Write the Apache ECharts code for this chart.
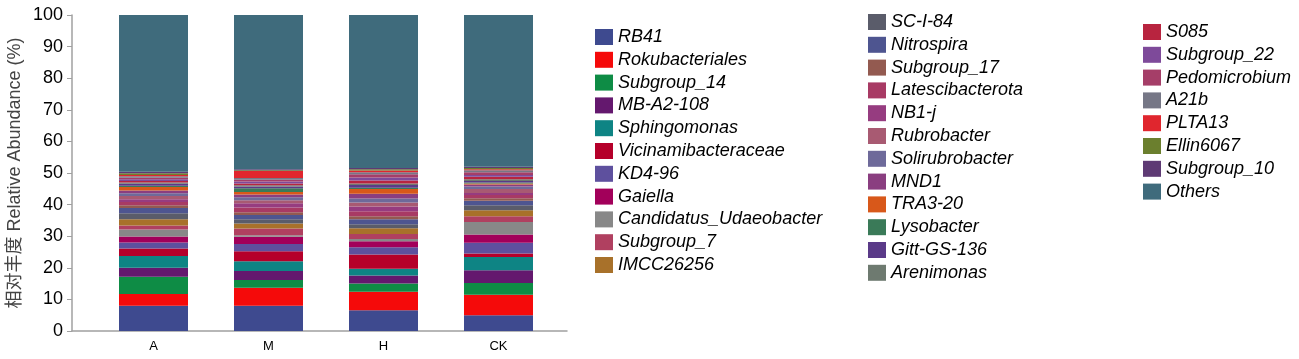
<!DOCTYPE html>
<html><head><meta charset="utf-8">
<script src="https://cdn.jsdelivr.net/npm/echarts@6/dist/echarts.min.js"></script>
<style>html,body{margin:0;padding:0;background:#fff}#c{width:1299px;height:359px}</style>
</head><body><div id="c"></div>
<script>
const categories = ['A', 'M', 'H', 'CK'];
const taxa = ['RB41','Rokubacteriales','Subgroup_14','MB-A2-108','Sphingomonas','Vicinamibacteraceae','KD4-96','Gaiella','Candidatus_Udaeobacter','Subgroup_7','IMCC26256',
  'SC-I-84','Nitrospira','Subgroup_17','Latescibacterota','NB1-j','Rubrobacter','Solirubrobacter','MND1','TRA3-20','Lysobacter','Gitt-GS-136','Arenimonas',
  'S085','Subgroup_22','Pedomicrobium','A21b','PLTA13','Ellin6067','Subgroup_10','Others'];
const colors = ['#3E4A8F','#F50A0A','#0E8C45','#64186E','#0E8484','#B5002A','#5E509E','#A2005A','#888888','#B04060','#A8712A',
  '#5A5C6A','#4E5590','#935A50','#A83A64','#963C80','#A85A72','#6E6A9A','#8A3E80','#D8581A','#3A7A58','#5A3A88','#6E7A70',
  '#B8243F','#7E4A9A','#A53E68','#767786','#E0262E','#6B7F2E','#5E3A74','#3F6B7C'];
// relative abundance (%) per sample, same order as taxa
const sampleA  = [8.0,3.7,5.5,2.8,3.7,2.4,1.9,1.9,2.2,1.3,2.0, 1.9,1.6,0.9,1.0,0.9,1.0,0.9,0.9,1.1,0.4,0.6,0.4, 0.5,0.5,0.5,0.5,0.4,0.5,0.5,49.6];
const sampleM  = [8.0,5.7,2.4,2.9,3.1,3.1,2.3,2.3,0.5,2.1,1.6, 1.4,1.3,0.9,1.5,1.3,1.0,0.9,0.9,0.8,1.2,0.5,0.4, 0.6,0.6,0.6,0.5,2.2,0.3,0.3,48.8];
const sampleH  = [6.6,5.8,2.6,2.6,2.1,4.5,2.3,1.9,0.7,1.6,1.8, 1.3,1.6,0.9,1.6,1.5,1.3,1.2,1.5,1.5,0.4,0.9,0.5, 0.9,1.0,1.0,0.6,0.6,0.4,0.4,48.4];
const sampleCK = [5.0,6.5,3.7,4.0,4.2,1.1,3.4,2.6,4.0,1.8,1.9, 1.6,1.4,0.8,1.0,0.7,1.2,0.8,0.7,0.3,0.3,0.5,0.5, 0.8,0.6,0.8,0.7,0.3,0.4,0.4,48.0];

const samples = [sampleA, sampleM, sampleH, sampleCK];
const series = taxa.map((name, i) => ({
  name, type: 'bar', stack: 'total', barWidth: 69,
  xAxisIndex: 1, yAxisIndex: 1,
  itemStyle: { color: colors[i] },
  data: samples.map(s => s[i])
}));
const legendBase = {
  orient: 'vertical', itemWidth: 18, itemHeight: 16, itemGap: 4.8, icon: 'rect',
  textStyle: { fontFamily: 'Liberation Sans, Arial', fontStyle: 'italic', fontSize: 18, lineHeight: 18, color: '#000' }
};
const axisColor = '#a0a0a0';
const chart = echarts.init(document.getElementById('c'), null, { renderer: 'canvas' });
chart.setOption({
  animation: false,
  color: colors,
  grid: [
    { left: 72, right: 732, top: 15, bottom: 28 },
    { left: 96, right: 743, top: 15, bottom: 28 }
  ],
  legend: [
    Object.assign({}, legendBase, { left: 590, top: 23, data: taxa.slice(0, 11) }),
    Object.assign({}, legendBase, { left: 863, top: 8, data: taxa.slice(11, 23) }),
    Object.assign({}, legendBase, { left: 1138, top: 18, data: taxa.slice(23) })
  ],
  xAxis: [
    { type: 'value', gridIndex: 0, min: 0, max: 1,
      splitLine: { show: false }, axisTick: { show: false }, axisLabel: { show: false },
      axisLine: { show: true, lineStyle: { color: axisColor, width: 1.5 } } },
    { type: 'category', gridIndex: 1, data: categories,
      axisLine: { show: false },
      axisTick: { show: false },
      axisLabel: { color: '#000', fontSize: 13, fontFamily: 'Liberation Sans, Arial', margin: 9 } }
  ],
  yAxis: [
    { type: 'value', gridIndex: 0, min: 0, max: 100, interval: 10,
      name: '相对丰度 Relative Abundance (%)', nameLocation: 'middle', nameGap: 48, nameRotate: 90,
      nameTextStyle: { color: '#444', fontSize: 18, fontFamily: 'Liberation Sans, Noto Sans CJK SC' },
      splitLine: { show: false },
      axisLine: { show: true, onZero: false, lineStyle: { color: axisColor, width: 1.5 } },
      axisTick: { show: true, length: 5, lineStyle: { color: axisColor } },
      axisLabel: { color: '#000', fontSize: 18, fontFamily: 'Liberation Sans, Arial', margin: 9 } },
    { type: 'value', gridIndex: 1, min: 0, max: 100, show: false }
  ],
  series
});
</script></body></html>
